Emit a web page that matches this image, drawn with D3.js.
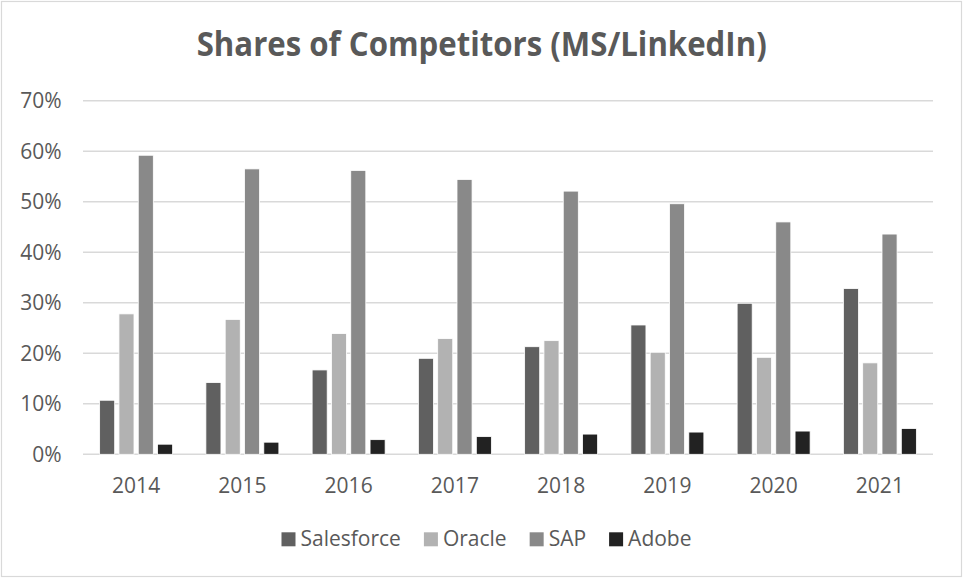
<!DOCTYPE html>
<html>
<head>
<meta charset="utf-8">
<script src="https://cdn.jsdelivr.net/npm/d3@7"></script>
<style>
body { margin: 0; background: #fff; }
text { font-family: 'Open Sans', sans-serif; fill: #595959; }
</style>
</head>
<body>
<div id="chart"></div>
<script>
var years = ['2014', '2015', '2016', '2017', '2018', '2019', '2020', '2021'];
var seriesNames = ['Salesforce', 'Oracle', 'SAP', 'Adobe'];
var salesforce = [10.7, 14.2, 16.7, 19.0, 21.3, 25.6, 29.9, 32.8];
var oracle = [27.8, 26.7, 23.9, 22.9, 22.5, 20.2, 19.2, 18.1];
var sap = [59.2, 56.5, 56.2, 54.4, 52.1, 49.6, 46.0, 43.6];
var adobe = [2.0, 2.4, 2.9, 3.5, 4.0, 4.4, 4.6, 5.1];
var yTicks = [0, 10, 20, 30, 40, 50, 60, 70];
var colors = ['#606060', '#b2b2b2', '#898989', '#222222'];

var width = 964, height = 578;
var plot = {left: 83, right: 933, top: 100.7, bottom: 454.3};

var values = [salesforce, oracle, sap, adobe];
var rows = years.map(function(y, i){
    return {year: y, vals: seriesNames.map(function(s, j){ return {name: s, v: values[j][i], idx: j}; })};
});

var svg = d3.select('#chart')
    .append('svg')
    .attr('width', width)
    .attr('height', height);

// outer chart border
svg.append('rect')
    .attr('x', 1.5).attr('y', 1.5)
    .attr('width', 960).attr('height', 575)
    .attr('fill', '#fff')
    .attr('stroke', '#d9d9d9')
    .attr('stroke-width', 1.2);

var x0 = d3.scaleBand()
    .domain(years)
    .range([plot.left, plot.right])
    .paddingInner(0.313)
    .paddingOuter(0.1565);

var x1 = d3.scaleBand()
    .domain(seriesNames)
    .range([0, x0.bandwidth()])
    .paddingInner(0.22);

var y = d3.scaleLinear()
    .domain([0, 70])
    .range([plot.bottom, plot.top]);

// gridlines
svg.append('g')
    .selectAll('line')
    .data(yTicks)
    .enter().append('line')
    .attr('x1', plot.left)
    .attr('x2', plot.right)
    .attr('y1', function(d){ return y(d); })
    .attr('y2', function(d){ return y(d); })
    .attr('stroke', '#d9d9d9')
    .attr('stroke-width', 1.6);

// y labels
svg.append('g')
    .selectAll('text')
    .data(yTicks)
    .enter().append('text')
    .attr('x', 61.7)
    .attr('y', function(d){ return y(d); })
    .attr('dy', '0.36em')
    .attr('text-anchor', 'end')
    .style('font-size', '21px')
    .text(function(d){ return d + '%'; });

// bars
var groups = svg.append('g')
    .selectAll('g')
    .data(rows)
    .enter().append('g')
    .attr('transform', function(d){ return 'translate(' + x0(d.year) + ',0)'; });

groups.selectAll('rect')
    .data(function(d){ return d.vals; })
    .enter().append('rect')
    .attr('x', function(d){ return x1(d.name); })
    .attr('width', x1.bandwidth())
    .attr('y', function(d){ return y(d.v); })
    .attr('height', function(d){ return y(0) - y(d.v); })
    .attr('fill', function(d){ return colors[d.idx]; })
    .attr('stroke', '#ffffff')
    .attr('stroke-width', 0.8);

// x labels
svg.append('g')
    .selectAll('text')
    .data(years)
    .enter().append('text')
    .attr('x', function(d){ return x0(d) + x0.bandwidth() / 2; })
    .attr('y', 492.5)
    .attr('text-anchor', 'middle')
    .style('font-size', '21px')
    .text(function(d){ return d; });

// title
svg.append('text')
    .attr('x', 481.7)
    .attr('y', 56)
    .attr('text-anchor', 'middle')
    .attr('textLength', 570)
    .attr('lengthAdjust', 'spacingAndGlyphs')
    .style('font-size', '34px')
    .style('font-weight', 'bold')
    .text('Shares of Competitors (MS/LinkedIn)');

// legend
var legend = svg.append('g');
var items = legend.selectAll('g')
    .data(seriesNames)
    .enter().append('g');

items.append('rect')
    .attr('width', 14)
    .attr('height', 14)
    .attr('y', 532.3)
    .attr('fill', function(d, i){ return colors[i]; });

items.append('text')
    .attr('x', 19)
    .attr('y', 546)
    .style('font-size', '21px')
    .text(function(d){ return d; });

var pos = 0;
var offsets = [];
items.each(function(d){
    var w = d3.select(this).select('text').node().getComputedTextLength();
    offsets.push(pos);
    pos += 19 + w + 23;
});
var total = pos - 23;
var startX = 486.5 - total / 2;
items.attr('transform', function(d, i){ return 'translate(' + (startX + offsets[i]) + ',0)'; });
</script>
</body>
</html>
